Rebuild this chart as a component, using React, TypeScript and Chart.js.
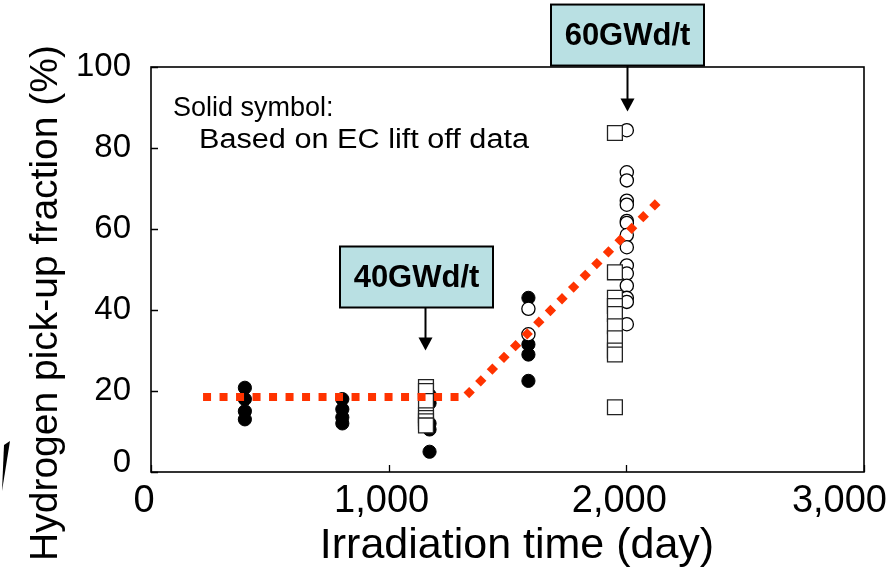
import React, { useEffect, useRef } from "react";
import { Chart, registerables } from "chart.js";

Chart.register(...registerables);

const FONT = '"Liberation Sans", Arial, Helvetica, sans-serif';

// Solid circles: pick-up fraction based on EC lift-off data
const ecDays = [395, 395, 395, 395, 805, 805, 805, 805, 1172, 1172, 1172, 1172, 1172, 1588, 1588, 1588, 1588];
const ecFraction = [20.8, 18, 15, 13, 18, 15.5, 13.5, 12, 19, 17, 12, 10.5, 5, 43, 31.5, 29, 22.5];

// Open circles
const openCircleDays = [1588, 1588, 2002, 2002, 2002, 2002, 2002, 2002, 2002, 2002, 2002, 2002, 2002, 2002, 2002, 2002, 2002];
const openCircleFraction = [40.3, 34, 84.4, 74, 72, 67, 66, 62, 61.5, 58.5, 55.5, 51, 49, 46, 43, 42, 36.5];

// Open squares
const squareDays = [1157, 1157, 1157, 1157, 1157, 1157, 1157, 1952, 1952, 1952, 1952, 1952, 1952, 1952, 1952, 1952, 1952];
const squareFraction = [21, 20, 17.5, 14, 13.3, 12.5, 11.5, 83.7, 49.3, 43, 41, 39, 36, 33, 30, 29, 16];

// Trend guide line
const trendDays = [219, 1320, 2138];
const trendFraction = [18.5, 18.5, 67];

// Axis ticks
const xTickValues = [0, 1000, 2000, 3000];
const yTickValues = [0, 20, 40, 60, 80, 100];

// Burn-up call-outs: label, day the arrow points at, value at arrow tip
const calloutLabels = ["40GWd/t", "60GWd/t"];
const calloutDays = [1152, 2002];
const calloutTips = [30, 89];

const toPoints = (xs: number[], ys: number[]) => xs.map((x, i) => ({ x, y: ys[i] }));

// draws text squeezed or widened to a given width
function fillTextWidth(ctx: CanvasRenderingContext2D, text: string, x: number, y: number, targetWidth: number) {
  const w = ctx.measureText(text).width;
  ctx.save();
  ctx.translate(x, y);
  ctx.scale(targetWidth / w, 1);
  ctx.fillText(text, 0, 0);
  ctx.restore();
}

const decorations = {
  id: "decorations",
  beforeDatasetsDraw(chart: any) {
    const { ctx, chartArea: a, scales } = chart;
    ctx.save();
    // frame
    ctx.strokeStyle = "#000";
    ctx.lineWidth = 1.6;
    ctx.strokeRect(a.left, a.top, a.right - a.left, a.bottom - a.top);
    // inward tick marks
    ctx.beginPath();
    yTickValues.forEach((v) => {
      const py = Math.round(scales.y.getPixelForValue(v)) + 0.5;
      ctx.moveTo(a.left, py);
      ctx.lineTo(a.left + 7, py);
    });
    xTickValues.forEach((v) => {
      const px = Math.round(scales.x.getPixelForValue(v)) + 0.5;
      ctx.moveTo(px, a.bottom);
      ctx.lineTo(px, a.bottom - 7);
    });
    ctx.lineWidth = 1.3;
    ctx.stroke();
    ctx.restore();
  },
  afterDraw(chart: any) {
    const { ctx, scales, width } = chart;
    ctx.save();
    ctx.fillStyle = "#000";

    // y tick labels
    ctx.font = `33px ${FONT}`;
    ctx.textAlign = "right";
    ctx.textBaseline = "middle";
    yTickValues.forEach((v) => {
      const py = scales.y.getPixelForValue(v);
      ctx.fillText(String(v), 131, v === 0 ? py - 9 : py);
    });

    // x tick labels
    ctx.font = `38px ${FONT}`;
    ctx.textAlign = "center";
    ctx.textBaseline = "alphabetic";
    xTickValues.forEach((v) => {
      const label = v.toLocaleString("en-US");
      const w = ctx.measureText(label).width;
      let cx = scales.x.getPixelForValue(v) - 7;
      if (cx + w / 2 > width - 3) cx = width - 3 - w / 2;
      ctx.fillText(label, cx, 512);
    });

    // axis titles
    ctx.font = `43px ${FONT}`;
    ctx.fillText("Irradiation time (day)", 517, 558);
    ctx.save();
    ctx.translate(57, 303);
    ctx.rotate(-Math.PI / 2);
    ctx.font = `39px ${FONT}`;
    ctx.fillText("Hydrogen pick-up fraction (%)", 0, 0);
    ctx.restore();

    // note
    ctx.font = `27px ${FONT}`;
    ctx.textAlign = "left";
    ctx.fillText("Solid symbol:", 173, 116);
    fillTextWidth(ctx, "Based on EC lift off data", 199, 148, 330);

    // call-out boxes with arrows
    const stems = [43, 46];
    const shifts = [-9, 0];
    calloutLabels.forEach((label, i) => {
      const px = Math.round(scales.x.getPixelForValue(calloutDays[i])) + 0.5;
      const tip = scales.y.getPixelForValue(calloutTips[i]);
      const boxBottom = tip - stems[i];
      const bw = 153;
      const bh = 61;
      const bx = px + shifts[i] - bw / 2;
      const by = boxBottom - bh;
      ctx.fillStyle = "#b9e0e3";
      ctx.fillRect(bx, by, bw, bh);
      ctx.strokeStyle = "#000";
      ctx.lineWidth = 2;
      ctx.strokeRect(bx, by, bw, bh);
      ctx.fillStyle = "#000";
      ctx.font = `bold 31px ${FONT}`;
      ctx.textAlign = "center";
      ctx.textBaseline = "middle";
      ctx.fillText(label, bx + bw / 2, by + bh / 2 + 1);
      // arrow
      ctx.beginPath();
      ctx.moveTo(px, boxBottom);
      ctx.lineTo(px, tip - 12);
      ctx.lineWidth = 2;
      ctx.stroke();
      ctx.beginPath();
      ctx.moveTo(px - 7, tip - 13);
      ctx.lineTo(px + 7, tip - 13);
      ctx.lineTo(px, tip);
      ctx.closePath();
      ctx.fill();
    });

    // stray mark at the left edge
    ctx.beginPath();
    ctx.moveTo(4, 445);
    ctx.lineTo(10, 441);
    ctx.lineTo(2, 491);
    ctx.closePath();
    ctx.fillStyle = "#000";
    ctx.fill();

    ctx.restore();
  },
};

export default function App() {
  const canvasRef = useRef<HTMLCanvasElement | null>(null);

  useEffect(() => {
    const canvas = canvasRef.current;
    if (!canvas) return;
    const chart = new Chart(canvas, {
      type: "scatter",
      data: {
        datasets: [
          {
            type: "line",
            label: "trend",
            data: toPoints(trendDays, trendFraction),
            borderColor: "#ff3300",
            borderWidth: 8,
            borderDash: [8, 8.5],
            borderCapStyle: "butt",
            pointRadius: 0,
            fill: false,
            tension: 0,
          },
          {
            label: "squares",
            data: toPoints(squareDays, squareFraction),
            pointStyle: "rect",
            pointRadius: 10.5,
            backgroundColor: "#ffffff",
            borderColor: "#222222",
            borderWidth: 1.3,
          },
          {
            label: "open circles",
            data: toPoints(openCircleDays, openCircleFraction),
            pointStyle: "circle",
            pointRadius: 6.6,
            backgroundColor: "#ffffff",
            borderColor: "#000000",
            borderWidth: 1.3,
          },
          {
            label: "EC lift-off",
            data: toPoints(ecDays, ecFraction),
            pointStyle: "circle",
            pointRadius: 6.6,
            backgroundColor: "#000000",
            borderColor: "#000000",
            borderWidth: 1,
          },
        ],
      },
      options: {
        responsive: false,
        animation: false,
        layout: { padding: { top: 67, right: 26, left: 0, bottom: 0 } },
        plugins: { legend: { display: false }, tooltip: { enabled: false } },
        scales: {
          x: {
            type: "linear",
            min: 0,
            max: 3000,
            ticks: { display: false, stepSize: 1000 },
            grid: { display: false },
            border: { display: false },
            afterFit: (s: any) => {
              s.height = 98;
            },
          },
          y: {
            min: 0,
            max: 100,
            ticks: { display: false, stepSize: 20 },
            grid: { display: false },
            border: { display: false },
            afterFit: (s: any) => {
              s.width = 151;
            },
          },
        },
      },
      plugins: [decorations],
    });
    return () => chart.destroy();
  }, []);

  return (
    <div style={{ position: "fixed", left: 0, top: 0, width: 890, height: 570, background: "#fff" }}>
      <canvas ref={canvasRef} width={890} height={570} style={{ display: "block" }} />
    </div>
  );
}
